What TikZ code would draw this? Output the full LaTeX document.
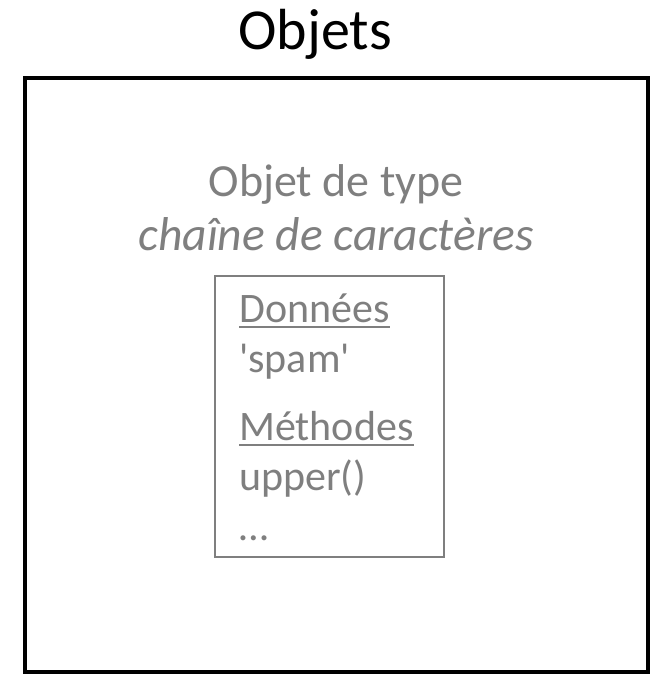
\documentclass[tikz,border=0pt]{standalone}
\usepackage{fontspec}
\setmainfont{Carlito}
\usetikzlibrary{positioning}
\definecolor{txtgray}{HTML}{7F7F7F}

\begin{document}
\begin{tikzpicture}[x=1pt, y=-1pt,
    outerbox/.style={line width=3.2pt, draw=black},
    innerbox/.style={line width=2pt, draw=txtgray},
    typetext/.style={font=\fontsize{46}{54}\selectfont, text=txtgray, inner sep=0pt, anchor=base},
    fieldtext/.style={font=\fontsize{42}{50}\selectfont, text=txtgray, inner sep=0pt, anchor=base west},
    underl/.style={line width=1.5pt, draw=txtgray}]
    \useasboundingbox (0,0) rectangle (658,683);
    % boxes
    \coordinate (O1) at (25,78);
    \coordinate (O2) at (648,672);
    \coordinate (I1) at (215,276);
    \coordinate (I2) at (444,557);
    \draw[outerbox] (O1) rectangle (O2);
    \draw[innerbox] (I1) rectangle (I2);
    % titles
    \node[font=\fontsize{58}{60}\selectfont, inner sep=0pt, anchor=base] (titre) at (315,49) {Objets};
    \node[typetext] (type1) at (336,196) {Objet de type};
    \node[typetext, font=\fontsize{47.5}{54}\selectfont\itshape] (type2) at (336,250) {chaîne de caractères};
    % contents
    \node[fieldtext] (donnees) at (239,322) {Données};
    \node[fieldtext] (spam) at (239,372) {\textquotesingle spam\textquotesingle};
    \node[fieldtext] (methodes) at (239,440) {Méthodes};
    \node[fieldtext] (upper) at (239,490) {upper()};
    \node[fieldtext] (etc) at (239,540) {…};
    \draw[underl] ([yshift=-5pt]donnees.base west) -- ([yshift=-5pt]donnees.base east);
    \draw[underl] ([yshift=-5pt]methodes.base west) -- ([yshift=-5pt]methodes.base east);
\end{tikzpicture}
\end{document}
